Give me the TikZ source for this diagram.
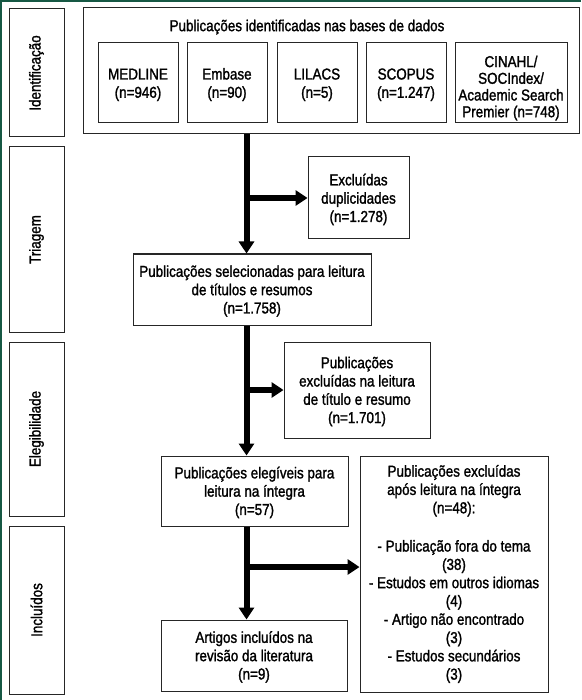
\documentclass[tikz,border=0pt]{standalone}
\usepackage{fontspec}
\setmainfont{Liberation Sans}[FakeStretch=0.85,FakeBold=1.4]
\usetikzlibrary{arrows.meta}
\definecolor{borderg}{RGB}{22,88,68}
\newcommand\dgfont{\fontsize{15.8}{18.3}\selectfont}
\newsavebox\bxbox
\newlength\bxskip
\setlength\bxskip{18.3pt}
\newcommand\bx[2][0pt]{%
  \sbox\bxbox{\vtop{\let\\\cr\baselineskip=\bxskip\lineskiplimit=-\maxdimen
    \halign{\hfil##\vrule width0pt height0pt depth4pt\hfil\cr#2\crcr}}}%
  \dimen0=\dp\bxbox \advance\dimen0 by -4pt \dp\bxbox=\dimen0
  \dimen0=11.3pt \advance\dimen0 by #1 \advance\dimen0 by #1 \ht\bxbox=\dimen0
  \usebox\bxbox}
\begin{document}
\begin{tikzpicture}[x=1pt,y=-1pt,
  corners/.style n args={4}{at={({(#1+#3)/2},{(#2+#4)/2})},
     minimum width={#3-#1}, minimum height={#4-#2}},
  box/.style={draw=black!85, line width=1pt, inner sep=0pt, font=\dgfont},
  lab/.style={inner sep=0pt, font=\dgfont},
  arr/.style={line width=6pt, black, -{Triangle[length=12pt,width=15pt]}}]
\useasboundingbox (0,0) rectangle (581,700);
\fill[white] (0,0) rectangle (581,700);
\draw[borderg, line width=2pt] (1,700) -- (1,1) -- (581,1);

% phase boxes
\node[box, corners={9}{9}{64}{137}] (id) {};
\node[box, corners={9}{147}{64}{332}] (tri) {};
\node[box, corners={9}{342}{64}{516}] (ele) {};
\node[box, corners={9}{526}{64}{694}] (inc) {};
\node[lab, rotate=90] (idl) at (id.center) {Identificação};
\node[lab, rotate=90] (tril) at (tri.center) {Triagem};
\node[lab, rotate=90] (elel) at (ele.center) {Elegibilidade};
\node[lab, rotate=90] (incl) at (inc.center) {Incluídos};

% identification
\node[box, corners={83}{8}{579}{134}] (big) {};
\node[lab] (title) at (307,25.5) {\bx{Publicações identificadas nas bases de dados}};
\node[box, corners={98}{43}{178}{123}] (medline) {\bx{MEDLINE\\(n=946)}};
\node[box, corners={187}{43}{267}{123}] (embase) {\bx{Embase\\(n=90)}};
\node[box, corners={277}{43}{357}{123}] (lilacs) {\bx{LILACS\\(n=5)}};
\node[box, corners={366}{43}{446}{123}] (scopus) {\bx{SCOPUS\\(n=1.247)}};
\node[box, corners={455}{43}{567}{123}] (cinahl) {\setlength\bxskip{16.7pt}\bx[3.5pt]{CINAHL/\\SOCIndex/\\Academic Search\\Premier (n=748)}};

% flow boxes
\node[box, corners={308}{157}{409}{239}] (excl1) {\bx{Excluídas\\duplicidades\\(n=1.278)}};
\node[box, corners={133}{254}{371}{325}] (sel) {\bx{Publicações selecionadas para leitura\\de títulos e resumos\\(n=1.758)}};
\node[box, corners={284}{342}{430}{438}] (excl2) {\bx{Publicações\\excluídas na leitura\\de título e resumo\\(n=1.701)}};
\node[box, corners={161}{456}{348}{526}] (eleg) {\bx{Publicações elegíveis para\\leitura na íntegra\\(n=57)}};
\node[box, corners={360}{456}{548}{692}] (excl3) {\bx[-1.5pt]{Publicações excluídas\\após leitura na íntegra\\(n=48):\\\noalign{\vskip20pt}- Publicação fora do tema\\(38)\\- Estudos em outros idiomas\\(4)\\- Artigo não encontrado\\(3)\\- Estudos secundários\\(3)}};
\node[box, corners={161}{620}{347}{691}] (art) {\bx{Artigos incluídos na\\revisão da literatura\\(n=9)}};

% connectors
\coordinate (trunk) at (246.5,0);
\coordinate (b3) at (246.5,567);
\draw[arr] (big.south -| trunk) -- (sel.north -| trunk);
\draw[arr] (trunk |- excl1.west) -- (excl1.west);
\draw[arr] (sel.south -| trunk) -- (eleg.north -| trunk);
\draw[arr] (trunk |- excl2.west) -- (excl2.west);
\draw[arr] (eleg.south -| trunk) -- (art.north -| trunk);
\draw[arr] (b3) -- (b3 -| excl3.west);
\end{tikzpicture}
\end{document}
